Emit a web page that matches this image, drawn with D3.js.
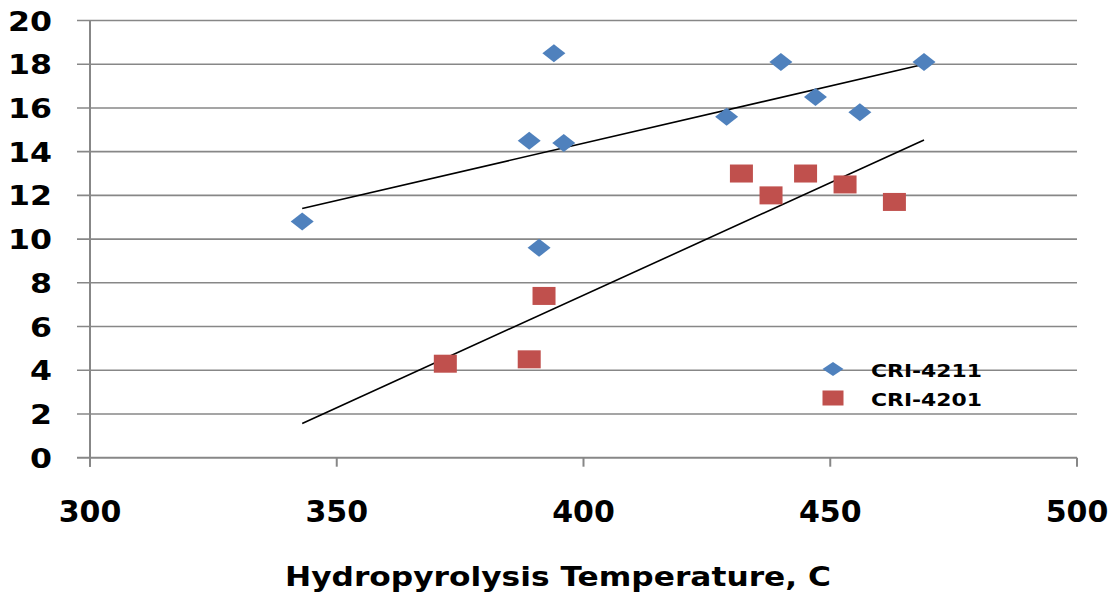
<!DOCTYPE html>
<html>
<head>
<meta charset="utf-8">
<script src="https://cdn.jsdelivr.net/npm/d3@7"></script>
<style>
  body { margin: 0; background: #fff; }
  text { font-family: "DejaVu Sans", Verdana, sans-serif; font-weight: bold; fill: #000; }
</style>
</head>
<body>
<div id="chart"></div>
<script>
// data
const series4211X = [343, 394, 389, 396, 391, 429, 440, 447, 456, 469];
const series4211Y = [10.8, 18.5, 14.5, 14.4, 9.6, 15.6, 18.1, 16.5, 15.8, 18.1];
const series4201X = [372, 389, 392, 432, 438, 445, 453, 463];
const series4201Y = [4.3, 4.5, 7.4, 13.0, 12.0, 13.0, 12.5, 11.7];
const seriesNames = ["CRI-4211", "CRI-4201"];
const xTicks = [300, 350, 400, 450, 500];
const yTicks = [0, 2, 4, 6, 8, 10, 12, 14, 16, 18, 20];
const xTitle = "Hydropyrolysis Temperature, C";

const svgWidth = 1110;
const svgHeight = 593;
const margin = {top: 20.5, bottom: 135.3, left: 90, right: 33};
const chartWidth = svgWidth - margin.left - margin.right;
const chartHeight = svgHeight - margin.top - margin.bottom;

const blue = "#4F81BD";
const red = "#C0504D";
const gridColor = "#878787";

const svg = d3.select("#chart")
    .append("svg")
        .attr("width", svgWidth)
        .attr("height", svgHeight);

const chart = svg.append("g")
    .attr("transform", `translate(${margin.left}, ${margin.top})`);

// scales
const xScale = d3.scaleLinear().domain([300, 500]).range([0, chartWidth]);
const yScale = d3.scaleLinear().domain([0, 20]).range([chartHeight, 0]);

// gridlines (with outward tick on the left)
chart.selectAll("line.grid")
    .data(yTicks.filter(d => d > 0))
    .enter().append("line")
        .attr("class", "grid")
        .attr("x1", -13).attr("x2", chartWidth)
        .attr("y1", d => yScale(d)).attr("y2", d => yScale(d))
        .attr("stroke", gridColor).attr("stroke-width", 1.6);

// y axis
chart.append("line")
    .attr("x1", 0).attr("x2", 0)
    .attr("y1", 0).attr("y2", chartHeight + 9)
    .attr("stroke", gridColor).attr("stroke-width", 2);

// x axis
chart.append("line")
    .attr("x1", -13).attr("x2", chartWidth)
    .attr("y1", chartHeight).attr("y2", chartHeight)
    .attr("stroke", gridColor).attr("stroke-width", 2);

chart.selectAll("line.xtick")
    .data(xTicks)
    .enter().append("line")
        .attr("class", "xtick")
        .attr("x1", d => xScale(d)).attr("x2", d => xScale(d))
        .attr("y1", chartHeight).attr("y2", chartHeight + 9)
        .attr("stroke", gridColor).attr("stroke-width", 2);

// tick labels
chart.selectAll("text.ylabel")
    .data(yTicks)
    .enter().append("text")
        .attr("class", "ylabel")
        .attr("text-anchor", "end")
        .attr("x", -38)
        .attr("y", d => yScale(d) + 10)
        .attr("font-size", 26)
        .attr("textLength", d => String(d).length * 22)
        .attr("lengthAdjust", "spacingAndGlyphs")
        .text(d => d);

chart.selectAll("text.xlabel")
    .data(xTicks)
    .enter().append("text")
        .attr("class", "xlabel")
        .attr("text-anchor", "middle")
        .attr("x", d => xScale(d))
        .attr("y", chartHeight + 64)
        .attr("font-size", 30)
        .text(d => d);

// axis title (the reference crops it at the bottom edge; kept just inside)
svg.append("text")
    .attr("x", 285)
    .attr("y", 586)
    .attr("font-size", 26)
    .attr("textLength", 546)
    .attr("lengthAdjust", "spacingAndGlyphs")
    .text(xTitle);

// trendlines (least squares), drawn over the full data x range
function fit(xs, ys) {
    const mx = d3.mean(xs), my = d3.mean(ys);
    const slope = d3.sum(xs, (x, i) => (x - mx) * (ys[i] - my)) / d3.sum(xs, x => (x - mx) ** 2);
    return x => my + slope * (x - mx);
}
const xExtent = d3.extent(series4211X.concat(series4201X));
[[series4211X, series4211Y], [series4201X, series4201Y]].forEach(([xs, ys]) => {
    const f = fit(xs, ys);
    chart.append("line")
        .attr("x1", xScale(xExtent[0])).attr("y1", yScale(f(xExtent[0])))
        .attr("x2", xScale(xExtent[1])).attr("y2", yScale(f(xExtent[1])))
        .attr("stroke", "#000").attr("stroke-width", 1.6);
});

// markers
const diamond = (w, h) => `M0,${-h/2}L${w/2},0L0,${h/2}L${-w/2},0Z`;

chart.selectAll("path.s4211")
    .data(series4211X.map((x, i) => [x, series4211Y[i]]))
    .enter().append("path")
        .attr("class", "s4211")
        .attr("d", diamond(23, 18))
        .attr("transform", d => `translate(${xScale(d[0])}, ${yScale(d[1])})`)
        .attr("fill", blue);

chart.selectAll("rect.s4201")
    .data(series4201X.map((x, i) => [x, series4201Y[i]]))
    .enter().append("rect")
        .attr("class", "s4201")
        .attr("x", d => xScale(d[0]) - 11.5)
        .attr("y", d => yScale(d[1]) - 9)
        .attr("width", 23).attr("height", 18)
        .attr("fill", red);

// legend
const legend = svg.append("g").attr("transform", "translate(833, 369)");
legend.append("path")
    .attr("d", diamond(21, 14))
    .attr("fill", blue);
legend.append("rect")
    .attr("x", -10.5).attr("y", 21.5)
    .attr("width", 21).attr("height", 15)
    .attr("fill", red);
legend.selectAll("text")
    .data(seriesNames)
    .enter().append("text")
        .attr("x", 38)
        .attr("y", (d, i) => 8 + i * 28.5)
        .attr("font-size", 17)
        .attr("textLength", 111)
        .attr("lengthAdjust", "spacingAndGlyphs")
        .text(d => d);
</script>
</body>
</html>
